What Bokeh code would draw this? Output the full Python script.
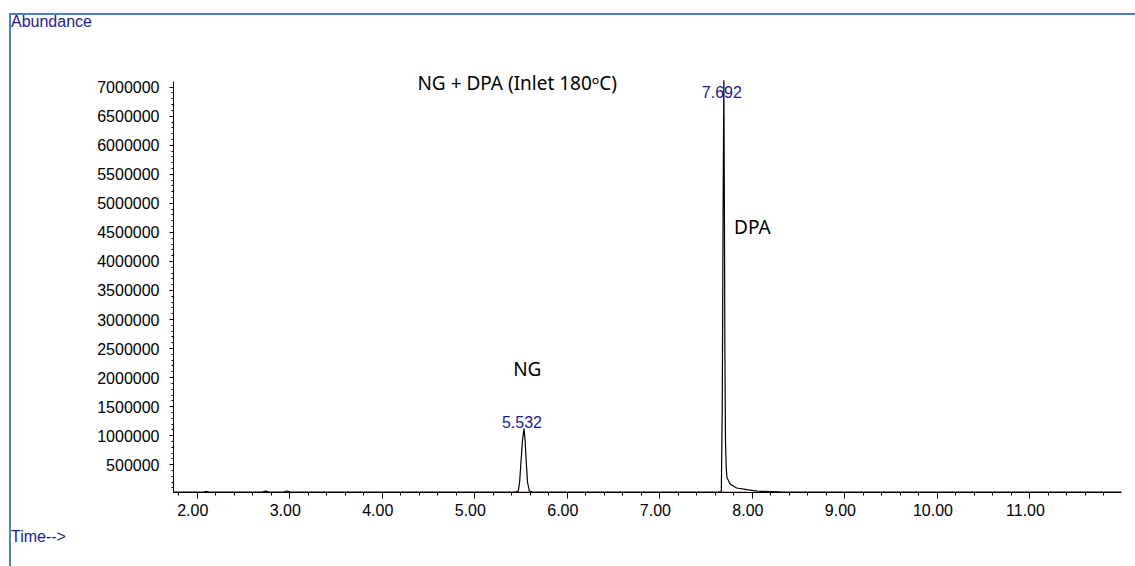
from bokeh.plotting import figure
from bokeh.models import Range1d, Label, FixedTicker, PrintfTickFormatter, Div
from bokeh.layouts import column
from bokeh.embed import file_html
from bokeh.resources import INLINE

# ---- data ----
time_min = [1.75, 2.00, 2.08, 2.10, 2.12, 2.50, 2.70, 2.74, 2.78, 2.94, 2.97, 3.00,
            3.50, 4.00, 4.50, 5.00, 5.40, 5.44, 5.47, 5.485, 5.500, 5.515, 5.532,
            5.545, 5.556, 5.570, 5.590, 5.620, 6.00, 6.50, 7.00, 7.50, 7.64, 7.665,
            7.675, 7.683, 7.692, 7.698, 7.703, 7.710, 7.718, 7.726, 7.760, 7.830,
            7.940, 8.050, 8.300, 8.600, 9.00, 9.50, 10.00, 10.50, 11.00, 11.50, 11.99]
abundance = [30000, 30000, 32000, 42000, 32000, 30000, 31000, 45000, 31000, 32000, 48000, 32000,
             30000, 30000, 30000, 30000, 30000, 32000, 45000, 200000, 560000, 900000, 1125000,
             900000, 560000, 200000, 45000, 32000, 30000, 30000, 30000, 30000, 31000, 40000,
             1500000, 4500000, 7120000, 5000000, 2500000, 900000, 450000, 280000, 170000, 100000,
             70000, 45000, 33000, 31000, 30000, 30000, 30000, 30000, 30000, 30000, 30000]

peak_rt = [5.532, 7.692]
peak_labels = ["5.532", "7.692"]
peak_names = ["NG", "DPA"]
integ_start = [5.455, 7.650]
integ_end = [5.600, 7.940]
integ_level = [28000, 28000]

x_ticks = [2, 3, 4, 5, 6, 7, 8, 9, 10, 11]
y_ticks = [500000, 1000000, 1500000, 2000000, 2500000, 3000000, 3500000,
           4000000, 4500000, 5000000, 5500000, 6000000, 6500000, 7000000]

title_text = "NG + DPA (Inlet 180\u1d52C)"

BLUE_TXT = "#1c1c8c"
Y_AXIS_TOP = 7098000
Y_START = 22000

p = figure(width=1124, height=495, output_backend="svg", toolbar_location=None,
           x_range=Range1d(1.744, 11.99), y_range=Range1d(Y_START, 7459500),
           min_border_left=162, min_border_right=14, min_border_top=29, min_border_bottom=34,
           outline_line_color=None, background_fill_color="white", border_fill_color="white")
p.margin = (0, 0, 0, 0)
p.grid.visible = False

xminor = [round(1.8 + 0.2 * i, 2) for i in range(52)]
yminor = [100000 * i for i in range(1, 71)]

xa = p.xaxis[0]
xa.ticker = FixedTicker(ticks=x_ticks, minor_ticks=xminor)
xa.formatter = PrintfTickFormatter(format="%.2f")
xa.major_label_overrides = {t: "%.2f  " % t for t in x_ticks}
ya = p.yaxis[0]
ya.ticker = FixedTicker(ticks=y_ticks, minor_ticks=yminor)
ya.formatter = PrintfTickFormatter(format="%d")
ya.bounds = (Y_START, Y_AXIS_TOP)
for ax in (xa, ya):
    ax.axis_line_color = "black"
    ax.axis_line_width = 1
    ax.major_tick_line_color = "black"
    ax.minor_tick_line_color = "black"
    ax.major_tick_in = 0
    ax.minor_tick_in = 0
    ax.major_label_text_font = "Liberation Sans"
    ax.major_label_text_font_size = "16px"
    ax.major_label_text_color = "black"
xa.major_tick_out = 6
xa.minor_tick_out = 3
xa.major_label_standoff = 3
ya.major_tick_out = 4
ya.minor_tick_out = 2
ya.major_label_standoff = 10

p.line(time_min, abundance, line_color="black", line_width=1.2)
p.segment(x0=integ_start, y0=integ_level, x1=integ_end, y1=integ_level,
          line_color="#b01010", line_width=1)

# peak retention-time labels
for rt, txt in zip(peak_rt, peak_labels):
    apex = max(a for t, a in zip(time_min, abundance) if abs(t - rt) < 1e-9)
    if apex < Y_AXIS_TOP:
        lab = Label(x=rt, y=apex, text=txt, text_align="center", text_baseline="middle",
                    x_offset=-2, y_offset=6, text_font="Liberation Sans",
                    text_font_size="16px", text_color=BLUE_TXT)
    else:
        lab = Label(x=rt, y=Y_AXIS_TOP, text=txt, text_align="center", text_baseline="middle",
                    x_offset=-2, y_offset=-11, text_font="Liberation Sans",
                    text_font_size="16px", text_color=BLUE_TXT)
    p.add_layout(lab)

# compound names and title
name_x = [5.568, 8.0]
name_y = [2153000, 4600000]
for nm, nx, ny in zip(peak_names, name_x, name_y):
    p.add_layout(Label(x=nx, y=ny, text=nm, text_align="center", text_baseline="middle",
                       text_font="Noto Sans", text_font_size="19px", text_color="black"))
p.add_layout(Label(x=5.459, y=7080000, text=title_text, text_align="center",
                   text_baseline="middle", text_font="Noto Sans", text_font_size="19px",
                   text_color="black"))

txt_style = {"font-family": "Liberation Sans", "font-size": "16px", "color": BLUE_TXT}
top_div = Div(text="Abundance", width=1124, height=16, margin=(0, 0, 0, 0),
              styles=dict(txt_style, **{"line-height": "14px"}))
bot_div = Div(text="Time--&gt;", width=1124, height=40, margin=(0, 0, 0, 0),
              styles=dict(txt_style, **{"line-height": "21px"}))

layout = column(top_div, p, bot_div, spacing=0)
layout.margin = (13, 0, 0, 9)
layout.styles = {"border-top": "2px solid #4f81bd", "border-left": "2px solid #4f81bd",
                 "background": "white"}

open("out.html", "w").write(file_html(layout, INLINE))
